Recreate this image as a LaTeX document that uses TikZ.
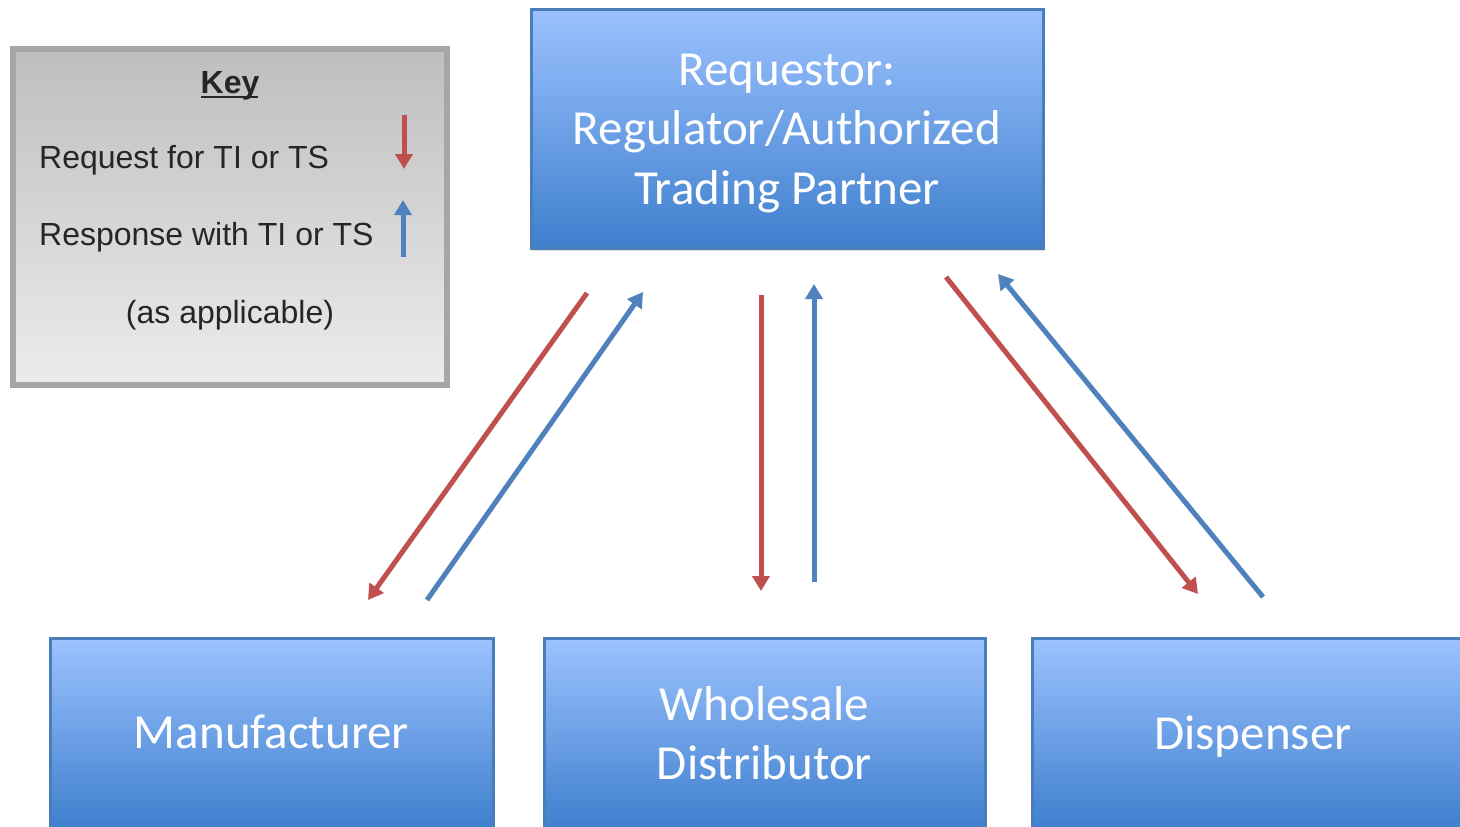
\documentclass[tikz,border=0pt]{standalone}
\usepackage{fontspec}
\setmainfont{Carlito}
\newfontfamily\arialf{Liberation Sans}
\usetikzlibrary{arrows.meta,shadows}
\definecolor{reqred}{RGB}{192,80,77}
\definecolor{resblue}{RGB}{79,129,189}
\definecolor{boxtop}{RGB}{156,194,255}
\definecolor{boxbot}{RGB}{62,127,205}
\definecolor{boxline}{RGB}{74,126,187}
\definecolor{keyline}{RGB}{166,166,166}
\definecolor{keytop}{RGB}{190,190,190}
\definecolor{keybot}{RGB}{236,236,236}
\tikzset{
  entity/.style={rectangle, draw=boxline, line width=3pt, top color=boxtop, bottom color=boxbot,
    inner sep=0pt, drop shadow={opacity=0.25, shadow xshift=2pt, shadow yshift=-3pt}},
  entitytext/.style={text=white, font=\fontsize{49}{59.5}\selectfont, align=center, inner sep=0pt},
  keybox/.style={rectangle, draw=keyline, line width=6pt, top color=keytop, bottom color=keybot,
    inner sep=0pt, drop shadow={opacity=0.3, shadow xshift=2pt, shadow yshift=-3pt}},
  keytext/.style={font=\arialf\fontsize{32}{38}\selectfont, text=black!85, inner sep=0pt},
  reqarrow/.style={draw=reqred, line width=5pt, -{Triangle[length=15pt,width=17pt]}},
  resarrow/.style={draw=resblue, line width=5pt, -{Triangle[length=15pt,width=17pt]}}
}
\begin{document}
\begin{tikzpicture}[x=1pt,y=-1pt]
\clip (0,0) rectangle (1460,827);
\fill[white] (0,0) rectangle (1460,827);
% key
\node[keybox, minimum width=434pt, minimum height=336pt] (key) at (230,217) {};
\node[keytext, anchor=base, font=\arialf\bfseries\fontsize{32}{38}\selectfont] (keyt) at (230,93)
  {\setlength{\fboxsep}{0pt}\rlap{\rule[-5pt]{57pt}{1.6pt}}Key};
\node[keytext, anchor=base west] (req) at (39,168) {Request for TI or TS};
\node[keytext, anchor=base west] (res) at (39,245) {Response with TI or TS};
\node[keytext, anchor=base] (app) at (230,323) {(as applicable)};
\coordinate (kr1) at (404,115);
\coordinate (kr2) at (404,169);
\coordinate (kb1) at (403,257);
\coordinate (kb2) at (403,200);
\draw[reqarrow] (kr1) -- (kr2);
\draw[resarrow] (kb1) -- (kb2);
% boxes
\node[entity, minimum width=512pt, minimum height=239pt] (top) at (787,128.5) {};
\node[entitytext] (topt) at (787,133) {Requestor:\\Regulator/Authorized\\Trading Partner};
\node[entity, minimum width=443pt, minimum height=192pt] (man) at (271.5,734) {};
\node[entitytext] (mant) at (271.5,732) {Manufacturer};
\node[entity, minimum width=441pt, minimum height=192pt] (whl) at (764.5,734) {};
\node[entitytext] (whlt) at (764.5,733) {Wholesale\\Distributor};
\node[entity, minimum width=441pt, minimum height=192pt] (dis) at (1253,734) {};
\node[entitytext] (dist) at (1253,737) {Dispenser};
% arrows
\coordinate (lr1) at (587,293);
\coordinate (lr2) at (368,600);
\coordinate (lb1) at (427,600);
\coordinate (lb2) at (643,292);
\coordinate (mr1) at (761,295);
\coordinate (mr2) at (761,591);
\coordinate (mb1) at (814,582);
\coordinate (mb2) at (814,284);
\coordinate (rr1) at (946,277);
\coordinate (rr2) at (1198,594);
\coordinate (rb1) at (1263,597);
\coordinate (rb2) at (998,274);
\draw[reqarrow] (lr1) -- (lr2);
\draw[resarrow] (lb1) -- (lb2);
\draw[reqarrow] (mr1) -- (mr2);
\draw[resarrow] (mb1) -- (mb2);
\draw[reqarrow] (rr1) -- (rr2);
\draw[resarrow] (rb1) -- (rb2);
\end{tikzpicture}
\end{document}
